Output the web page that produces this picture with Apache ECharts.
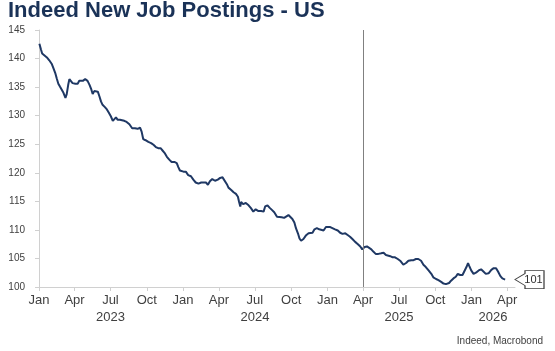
<!DOCTYPE html>
<html>
<head>
<meta charset="utf-8">
<script src="https://cdn.jsdelivr.net/npm/echarts@6/dist/echarts.min.js"></script>
<style>
  html, body { margin: 0; padding: 0; background: #fff; }
  #chart { width: 555px; height: 351px; }
</style>
</head>
<body>
<div id="chart"></div>
<script>
// Indeed job postings index, US
const dates = [
  '2023-01-02','2023-01-06','2023-01-09','2023-01-14','2023-01-21','2023-01-27','2023-02-02','2023-02-06',
  '2023-02-11','2023-02-15','2023-02-19','2023-02-23','2023-02-28','2023-03-04','2023-03-09','2023-03-12',
  '2023-03-16','2023-03-19','2023-03-23','2023-03-27','2023-04-03','2023-04-09','2023-04-13','2023-04-17',
  '2023-04-22','2023-04-28','2023-05-04','2023-05-09','2023-05-13','2023-05-17','2023-05-21','2023-05-25',
  '2023-05-30','2023-06-03','2023-06-07','2023-06-11','2023-06-17','2023-06-22','2023-06-27','2023-07-02',
  '2023-07-07','2023-07-11','2023-07-15','2023-07-19','2023-07-25','2023-07-30','2023-08-05','2023-08-11',
  '2023-08-18','2023-08-20','2023-08-25','2023-09-01','2023-09-08','2023-09-14','2023-09-18','2023-09-22',
  '2023-09-28','2023-10-05','2023-10-12','2023-10-18','2023-10-24','2023-10-30','2023-11-05','2023-11-10',
  '2023-11-15','2023-11-21','2023-11-27','2023-12-03','2023-12-10','2023-12-16','2023-12-20','2023-12-24',
  '2023-12-29','2024-01-02','2024-01-08','2024-01-14','2024-01-21','2024-01-27','2024-02-02','2024-02-09',
  '2024-02-16','2024-02-21','2024-02-28','2024-03-04','2024-03-09','2024-03-15','2024-03-22','2024-03-29',
  '2024-04-04','2024-04-10','2024-04-15','2024-04-21','2024-04-25','2024-05-02','2024-05-08','2024-05-14',
  '2024-05-19','2024-05-22','2024-05-25','2024-05-27','2024-06-01','2024-06-08','2024-06-15','2024-06-21',
  '2024-06-27','2024-07-03','2024-07-10','2024-07-17','2024-07-23','2024-07-27','2024-08-02','2024-08-07',
  '2024-08-13','2024-08-19','2024-08-26','2024-08-31','2024-09-07','2024-09-13','2024-09-18','2024-09-24',
  '2024-09-29','2024-10-04','2024-10-09','2024-10-13','2024-10-18','2024-10-22','2024-10-26','2024-11-01',
  '2024-11-07','2024-11-14','2024-11-18','2024-11-24','2024-11-29','2024-12-05','2024-12-11','2024-12-16',
  '2024-12-22','2024-12-28','2025-01-02','2025-01-08','2025-01-13','2025-01-20','2025-01-27','2025-02-02',
  '2025-02-08','2025-02-15','2025-02-21','2025-02-27','2025-03-05','2025-03-12','2025-03-19','2025-03-25',
  '2025-03-30','2025-04-05','2025-04-11','2025-04-16','2025-04-22','2025-04-27','2025-05-03','2025-05-10',
  '2025-05-17','2025-05-23','2025-05-29','2025-06-03','2025-06-09','2025-06-15','2025-06-21','2025-06-28',
  '2025-07-04','2025-07-07','2025-07-12','2025-07-19','2025-07-25','2025-08-01','2025-08-07','2025-08-13',
  '2025-08-19','2025-08-26','2025-09-01','2025-09-07','2025-09-14','2025-09-21','2025-09-26','2025-10-03',
  '2025-10-09','2025-10-16','2025-10-22','2025-10-28','2025-11-02','2025-11-05','2025-11-10','2025-11-16',
  '2025-11-22','2025-11-27','2025-12-03','2025-12-09','2025-12-14','2025-12-19','2025-12-23','2025-12-26',
  '2025-12-31','2026-01-06','2026-01-12','2026-01-19','2026-01-25','2026-01-31','2026-02-06','2026-02-13',
  '2026-02-20','2026-02-26','2026-03-04','2026-03-09','2026-03-15','2026-03-20','2026-03-27'
];
const postings = [
  142.6,141.6,140.9,140.7,140.2,139.7,139.1,138.4,
  137.5,136.5,135.6,135.1,135.0,134.0,133.1,133.7,
  135.4,136.4,136.1,135.7,135.6,135.6,136.1,136.3,
  136.1,136.4,136.1,135.4,134.7,133.8,134.3,134.6,
  134.2,133.4,132.5,131.9,131.5,131.1,130.5,129.9,
  129.1,129.3,129.7,129.3,129.3,129.5,129.1,128.9,
  128.5,128.4,127.8,127.8,127.7,127.9,127.2,125.9,
  125.7,125.4,125.2,124.9,124.5,124.3,124.3,123.9,
  123.5,122.8,122.3,121.9,121.9,121.7,121.0,120.4,
  120.6,120.2,120.2,119.6,119.4,118.8,118.3,118.1,
  118.3,118.2,118.3,117.9,118.5,118.9,118.6,118.8,
  119.1,119.2,118.9,118.0,117.4,117.0,116.6,116.3,
  115.8,114.9,114.1,114.9,114.5,114.7,114.3,113.8,
  113.2,113.6,113.3,113.3,113.2,114.1,114.3,113.9,
  113.5,113.1,112.3,112.2,112.2,112.1,112.3,112.6,
  112.3,111.9,111.3,110.3,109.4,108.5,108.1,108.4,
  109.0,109.4,109.4,109.5,110.1,110.3,110.1,110.3,
  109.9,110.5,110.6,110.5,110.3,110.1,109.9,109.5,
  109.3,109.4,109.1,108.8,108.4,107.9,107.5,107.1,
  106.6,107.0,107.1,107.0,106.6,106.2,105.8,105.8,
  105.9,106.0,105.6,105.8,105.4,105.2,105.2,104.9,
  104.6,104.3,103.9,104.2,104.6,104.7,104.7,104.9,
  104.9,104.6,103.9,103.5,102.9,102.3,101.7,101.4,
  101.2,100.9,100.6,100.5,100.5,100.7,101.1,101.5,
  101.8,102.3,102.1,102.1,102.3,103.5,104.2,103.7,
  102.9,102.3,102.5,102.9,103.1,102.7,102.3,102.4,
  103.0,103.3,103.3,102.7,101.9,101.5,101.3
];

const quarterTicks = [
  '2023-01-01','2023-04-01','2023-07-01','2023-10-01',
  '2024-01-01','2024-04-01','2024-07-01','2024-10-01',
  '2025-01-01','2025-04-01','2025-07-01','2025-10-01',
  '2026-01-01','2026-04-01'
];
const monthNames = ['Jan','Feb','Mar','Apr','May','Jun','Jul','Aug','Sep','Oct','Nov','Dec'];
// year labels sit in the middle of the visible part of each year
const yearLabelDates = ['2023-07-01','2024-07-01','2025-07-01','2026-02-24'];
const xMin = '2023-01-01';
const xMax = '2026-04-21';
const markerDate = '2025-04-01';

// dates -> ms; the x axes are plain value axes in ms so ticks can sit on quarter starts
const t = s => +echarts.time.parse(s);
const seriesData = dates.map((d, i) => [t(d), postings[i]]);
const lastValue = postings[postings.length - 1];

const labelFont = 'Liberation Sans, Arial, sans-serif';
const axisGrey = '#d0d0d0';

const chart = echarts.init(document.getElementById('chart'));
chart.setOption({
  animation: false,
  title: {
    text: 'Indeed New Job Postings - US',
    left: 8,
    top: 0,
    padding: 0,
    textStyle: { fontFamily: labelFont, fontSize: 22, fontWeight: 'bold', color: '#1a3257' }
  },
  graphic: [{
    type: 'text',
    right: 12,
    bottom: 5,
    style: { text: 'Indeed, Macrobond', fontFamily: labelFont, fontSize: 10, fill: '#404040' }
  }],
  grid: { left: 39, right: 40, top: 30, bottom: 64, containLabel: false, outerBoundsMode: 'none' },
  xAxis: [{
    type: 'value',
    min: t(xMin),
    max: t(xMax),
    axisLine: { show: true, lineStyle: { color: axisGrey, width: 1 } },
    axisTick: { show: true, length: 4, lineStyle: { color: axisGrey }, customValues: quarterTicks.map(t) },
    splitLine: { show: false },
    axisLabel: {
      customValues: quarterTicks.map(t),
      formatter: v => monthNames[new Date(v).getMonth()],
      fontFamily: labelFont, fontSize: 13, color: '#404040', margin: 7,
      hideOverlap: false
    }
  }, {
    type: 'value',
    min: t(xMin),
    max: t(xMax),
    position: 'bottom',
    offset: 17,
    axisLine: { show: false },
    axisTick: { show: false },
    splitLine: { show: false },
    axisLabel: {
      customValues: yearLabelDates.map(t),
      formatter: v => String(new Date(v).getFullYear()),
      fontFamily: labelFont, fontSize: 13, color: '#404040', margin: 7,
      hideOverlap: false
    }
  }],
  yAxis: {
    type: 'value',
    min: 100,
    max: 145,
    interval: 5,
    axisLine: { show: true, lineStyle: { color: axisGrey, width: 1 } },
    axisTick: { show: true, length: 4, lineStyle: { color: axisGrey } },
    splitLine: { show: false },
    axisLabel: { fontFamily: labelFont, fontSize: 10, color: '#404040', margin: 14 }
  },
  series: [{
    type: 'line',
    xAxisIndex: 0,
    data: seriesData,
    showSymbol: false,
    symbol: 'none',
    lineStyle: { color: '#1f3864', width: 2 },
    markLine: {
      silent: true,
      symbol: 'none',
      label: { show: false },
      lineStyle: { color: '#808080', width: 1, type: 'solid' },
      data: [{ xAxis: t(markerDate) }]
    },
    markPoint: {
      silent: true,
      data: [{ coord: [t(xMax), lastValue] }],
      symbol: 'path://M0,9 L10,3 L10,0 L29,0 L29,18 L10,18 L10,15 Z',
      symbolSize: [29, 18],
      symbolKeepAspect: false,
      symbolOffset: ['50%', 0],
      itemStyle: { color: '#ffffff', borderColor: '#404040', borderWidth: 1 },
      label: {
        show: true,
        position: 'inside',
        offset: [4, 0],
        formatter: String(Math.round(lastValue)),
        fontFamily: labelFont, fontSize: 11, color: '#303030'
      }
    }
  }]
});
</script>
</body>
</html>
